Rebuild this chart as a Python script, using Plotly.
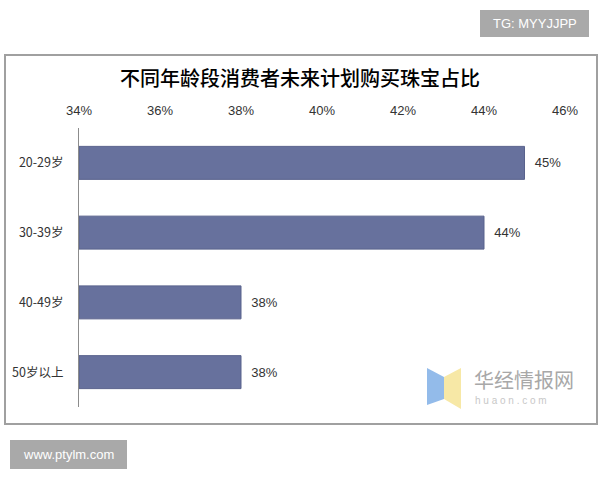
import plotly.graph_objects as go

categories = ["20-29岁", "30-39岁", "40-49岁", "50岁以上"]
values = [45, 44, 38, 38]
value_labels = ["45%", "44%", "38%", "38%"]
tick_vals = [34, 36, 38, 40, 42, 44, 46]
tick_text = ["34%", "36%", "38%", "40%", "42%", "44%", "46%"]
title_text = "不同年龄段消费者未来计划购买珠宝占比"
axis_start = 34

W, H = 600, 480


def px(x):
    return x / W


def py(y):
    return 1 - y / H


fig = go.Figure()
fig.add_trace(go.Bar(
    y=categories,
    x=[v - axis_start for v in values],
    base=axis_start,
    orientation="h",
    marker=dict(color="#67719d", line=dict(color="#59628c", width=1)),
    text=value_labels,
    textposition="outside",
    texttemplate="  %{text}",
    textfont=dict(family="Liberation Sans, Arial, sans-serif", size=13, color="#333333"),
    cliponaxis=False,
    hoverinfo="skip",
))

fig.update_layout(
    width=W, height=H,
    margin=dict(l=0, r=0, t=0, b=0, autoexpand=False),
    paper_bgcolor="white",
    plot_bgcolor="white",
    showlegend=False,
    bargap=0.527,
    xaxis=dict(
        domain=[px(79), px(565)],
        range=[34, 46],
        side="top",
        tickvals=tick_vals,
        ticktext=tick_text,
        showgrid=False,
        zeroline=False,
        showline=False,
        ticks="",
        automargin=False,
        ticklabelstandoff=9,
        tickfont=dict(family="Liberation Sans, Arial, sans-serif", size=13, color="#333333"),
        fixedrange=True,
    ),
    yaxis=dict(
        domain=[py(407), py(128)],
        autorange="reversed",
        showgrid=False,
        zeroline=False,
        showline=True,
        linecolor="#8c8c8c",
        linewidth=1,
        ticks="",
        automargin=False,
        ticklabelstandoff=12,
        tickfont=dict(family="Noto Sans CJK SC, sans-serif", size=12.5, color="#333333"),
        fixedrange=True,
    ),
)

shapes = []
# chart border
shapes.append(dict(type="rect", xref="paper", yref="paper",
                   x0=px(5), x1=px(597), y0=py(424), y1=py(55),
                   line=dict(color="#a0a0a0", width=2), fillcolor="rgba(0,0,0,0)", layer="below"))
# watermark badges
shapes.append(dict(type="rect", xref="paper", yref="paper",
                   x0=px(480), x1=px(589), y0=py(37), y1=py(10),
                   line=dict(width=0), fillcolor="#a9a9a9"))
shapes.append(dict(type="rect", xref="paper", yref="paper",
                   x0=px(10), x1=px(127), y0=py(469), y1=py(440),
                   line=dict(width=0), fillcolor="#a9a9a9"))


def path(points):
    s = "M " + " L ".join(f"{px(x)},{py(y)}" for x, y in points) + " Z"
    return s


shapes.append(dict(type="path", xref="paper", yref="paper",
                   path=path([(427, 368), (444, 377), (444, 399), (427, 405)]),
                   line=dict(width=0), fillcolor="#93bbea"))
shapes.append(dict(type="path", xref="paper", yref="paper",
                   path=path([(444, 377), (461, 368), (461, 409), (444, 399)]),
                   line=dict(width=0), fillcolor="#f7e8a6"))
fig.update_layout(shapes=shapes)

annotations = [
    dict(text=title_text, x=px(300), y=py(78), xref="paper", yref="paper",
         showarrow=False, xanchor="center", yanchor="middle",
         font=dict(family="Noto Sans CJK SC, sans-serif", size=20, color="#000000", weight=500),
         ),
    dict(text="TG: MYYJJPP", x=px(534.5), y=py(23.5), xref="paper", yref="paper",
         showarrow=False, xanchor="center", yanchor="middle",
         font=dict(family="Liberation Sans, Arial, sans-serif", size=13, color="white")),
    dict(text="www.ptylm.com", x=px(68.5), y=py(454.5), xref="paper", yref="paper",
         showarrow=False, xanchor="center", yanchor="middle",
         font=dict(family="Liberation Sans, Arial, sans-serif", size=13, color="white")),
    dict(text="华经情报网", x=px(472), y=py(379), xref="paper", yref="paper",
         showarrow=False, xanchor="left", yanchor="middle",
         font=dict(family="Noto Sans CJK SC, sans-serif", size=20, color="#a8a8a8")),
    dict(text="h u a o n . c o m", x=px(473), y=py(400), xref="paper", yref="paper",
         showarrow=False, xanchor="left", yanchor="middle",
         font=dict(family="Liberation Sans, Arial, sans-serif", size=10, color="#c8c8c8")),
]
fig.update_layout(annotations=annotations)

fig.write_html("out.html", config={"displayModeBar": False},
               post_script="document.body.style.margin='0';")
